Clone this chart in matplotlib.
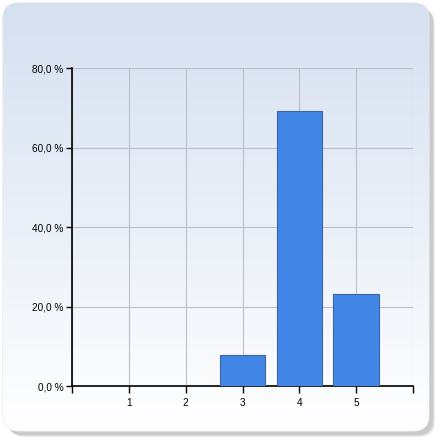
import numpy as np
import matplotlib
matplotlib.use('Agg')
import matplotlib.pyplot as plt
from matplotlib.patches import FancyBboxPatch
from matplotlib.ticker import FuncFormatter

categories = [1, 2, 3, 4, 5]
percent = [0.0, 0.0, 7.7, 69.2, 23.1]
y_ticks = [0, 20, 40, 60, 80]

plt.rcParams['font.family'] = ['Liberation Sans', 'DejaVu Sans']

fig = plt.figure(figsize=(4.41, 4.41), dpi=100)
fig.patch.set_facecolor('white')

# panel background with soft shadow + gradient
bg = fig.add_axes([0, 0, 1, 1])
bg.set_xlim(0, 441)
bg.set_ylim(441, 0)
bg.axis('off')
for off, a in [(8, 0.25), (7, 0.35), (6, 0.45)]:
    bg.add_patch(FancyBboxPatch((3 + off - 2, 3 + off - 2), 426, 428,
                                boxstyle='round,pad=0,rounding_size=16',
                                facecolor='#b8b8b8', edgecolor='none', alpha=a))
panel = FancyBboxPatch((3, 3), 426, 428, boxstyle='round,pad=0,rounding_size=16',
                       facecolor='white', edgecolor='#e2e6ec', lw=0.8)
bg.add_patch(panel)
grad = np.linspace(0, 1, 256)[:, None]
top = np.array([0.835, 0.878, 0.941])
bottom = np.array([1.0, 1.0, 1.0])
img = top + (bottom - top) * grad[:, :, None]
im = bg.imshow(img, extent=(3, 429, 431, 3), aspect='auto', zorder=2)
im.set_clip_path(panel)

ax = fig.add_axes([72 / 441, 1 - 386 / 441, 341 / 441, 318 / 441])
ax.patch.set_alpha(0)
ax.bar(categories, percent, width=0.8, color='#4286e8', edgecolor='#3b64a0',
       linewidth=0.8, zorder=3)
ax.set_xlim(0, 6)
ax.set_ylim(0, 80)
ax.set_xticks([0, 1, 2, 3, 4, 5, 6])
ax.set_xticklabels(['', '1', '2', '3', '4', '5', ''])
ax.set_yticks(y_ticks)
ax.yaxis.set_major_formatter(FuncFormatter(lambda v, p: f'{v:.1f} %'.replace('.', ',')))
ax.grid(True, color='#b9bfcc', linewidth=0.8, zorder=0)
for s in ['top', 'right']:
    ax.spines[s].set_visible(False)
for s in ['left', 'bottom']:
    ax.spines[s].set_color('black')
    ax.spines[s].set_linewidth(1.2)
ax.tick_params(axis='both', direction='out', length=4, width=1, labelsize=7.2,
               colors='black', pad=2)
ax.tick_params(axis='x', length=5, pad=4)

fig.savefig('out.png', dpi=100)
